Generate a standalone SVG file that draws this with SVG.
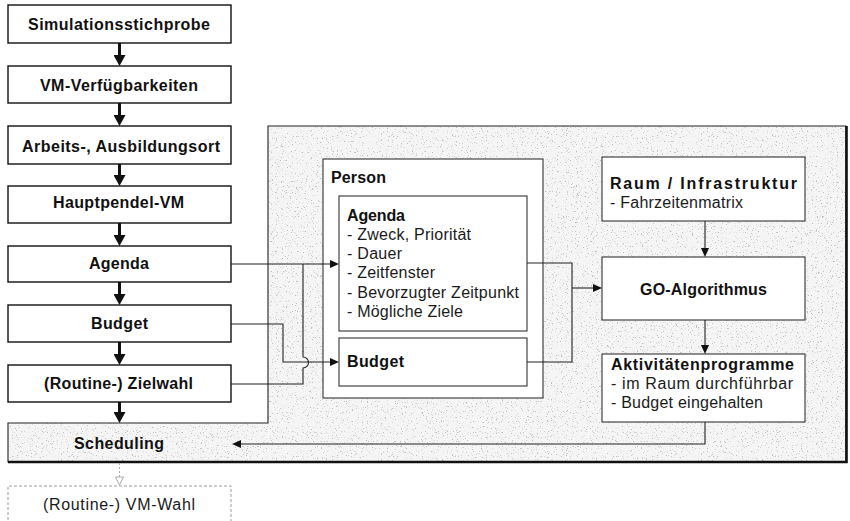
<svg xmlns="http://www.w3.org/2000/svg" width="850" height="521" viewBox="0 0 850 521">
  <style>
    .box { fill: #ffffff; stroke: #111111; stroke-width: 1.4; }
    .inner { fill: #ffffff; stroke: #333333; stroke-width: 1.1; }
    .b { font-family: "Liberation Sans", Arial, sans-serif; font-weight: bold; font-size: 16px; fill: #111111; }
    .h { font-family: "Liberation Sans", Arial, sans-serif; font-weight: bold; font-size: 16px; fill: #111111; }
    .t { font-family: "Liberation Sans", Arial, sans-serif; font-size: 16px; fill: #1a1a1a; }
    .flow { stroke: #111111; stroke-width: 3; fill: none; marker-end: url(#headBig); }
    .link { stroke: #222222; stroke-width: 1.1; fill: none; }
    .arrow { marker-end: url(#headSmall); }
  </style>
  <defs>
    <marker id="headBig" markerUnits="userSpaceOnUse" viewBox="0 0 11 12" markerWidth="11" markerHeight="12" refX="0" refY="6" orient="auto">
      <path d="M0,0 L11,6 L0,12 Z" fill="#111111"/>
    </marker>
    <marker id="headSmall" markerUnits="userSpaceOnUse" viewBox="0 0 9 8" markerWidth="9" markerHeight="8" refX="0" refY="4" orient="auto">
      <path d="M0,0 L9,4 L0,8 Z" fill="#111111"/>
    </marker>
    <marker id="headHollow" markerUnits="userSpaceOnUse" viewBox="0 0 10 10" markerWidth="10" markerHeight="10" refX="1" refY="5" orient="auto">
      <path d="M1,1 L9,5 L1,9 Z" fill="#ffffff" stroke="#aaaaaa" stroke-width="1"/>
    </marker>
    <filter id="grain" filterUnits="userSpaceOnUse" x="0" y="120" width="850" height="350">
      <feTurbulence type="fractalNoise" baseFrequency="0.8" numOctaves="2" seed="7" result="noise"/>
      <feColorMatrix in="noise" type="matrix" values="0 0 0 0 0.5  0 0 0 0 0.5  0 0 0 0 0.5  8 0 0 0 -5.0" result="dots"/>
      <feComposite in="dots" in2="SourceAlpha" operator="in" result="clipped"/>
      <feMerge>
        <feMergeNode in="SourceGraphic"/>
        <feMergeNode in="clipped"/>
      </feMerge>
    </filter>
  </defs>

  <!-- shaded planning panel, its lower strip is the Scheduling step -->
  <g id="scheduling">
    <path d="M268,126 H846 V462 H8 V423 H268 Z" fill="#f5f5f5" filter="url(#grain)"/>
    <path d="M268,126 H846 V462 H8 V423 H268 Z" fill="none" stroke="#222222" stroke-width="1.1"/>
    <path d="M8,462 H846.5 V126" fill="none" stroke="#111111" stroke-width="2.6"/>
    <text class="b" x="74" y="449" textLength="90" lengthAdjust="spacing">Scheduling</text>
  </g>

  <!-- left process chain -->
  <g id="simulationsstichprobe">
    <rect class="box" x="8" y="5" width="223" height="38"/>
    <text class="b" x="28" y="30" textLength="182" lengthAdjust="spacing">Simulationsstichprobe</text>
  </g>
  <g id="vm-verfuegbarkeiten">
    <rect class="box" x="8" y="66" width="223" height="37"/>
    <text class="b" x="40" y="91" textLength="158" lengthAdjust="spacing">VM-Verfügbarkeiten</text>
  </g>
  <g id="arbeitsort">
    <rect class="box" x="8" y="126" width="223" height="38"/>
    <text class="b" x="22" y="152" textLength="198" lengthAdjust="spacing">Arbeits-, Ausbildungsort</text>
  </g>
  <g id="hauptpendel-vm">
    <rect class="box" x="8" y="186" width="223" height="37"/>
    <text class="b" x="53" y="208" textLength="131" lengthAdjust="spacing">Hauptpendel-VM</text>
  </g>
  <g id="agenda">
    <rect class="box" x="8" y="246" width="223" height="36"/>
    <text class="b" x="89" y="269" textLength="60" lengthAdjust="spacing">Agenda</text>
  </g>
  <g id="budget">
    <rect class="box" x="8" y="305" width="223" height="37"/>
    <text class="b" x="91" y="329" textLength="57" lengthAdjust="spacing">Budget</text>
  </g>
  <g id="zielwahl">
    <rect class="box" x="8" y="365" width="223" height="37"/>
    <text class="b" x="44" y="389" textLength="149" lengthAdjust="spacing">(Routine-) Zielwahl</text>
  </g>
  <g id="vm-wahl">
    <path d="M8,530 V486 H231 V530" fill="#ffffff" stroke="#9a9a9a" stroke-width="1" stroke-dasharray="3,2"/>
    <text class="t" x="43" y="510" textLength="152" lengthAdjust="spacing" fill="#2a2a2a">(Routine-) VM-Wahl</text>
  </g>

  <!-- person with agenda and budget -->
  <g id="person">
    <rect class="inner" x="323" y="159" width="220" height="239"/>
    <text class="h" x="331" y="183" textLength="55" lengthAdjust="spacing">Person</text>
  </g>
  <g id="person-agenda">
    <rect class="inner" x="339" y="196" width="188" height="135"/>
    <text class="h" x="347" y="221" textLength="58" lengthAdjust="spacing">Agenda</text>
    <text class="t" x="347" y="240" textLength="124" lengthAdjust="spacing">- Zweck, Priorität</text>
    <text class="t" x="347" y="259" textLength="55" lengthAdjust="spacing">- Dauer</text>
    <text class="t" x="347" y="278" textLength="88" lengthAdjust="spacing">- Zeitfenster</text>
    <text class="t" x="347" y="298" textLength="172" lengthAdjust="spacing">- Bevorzugter Zeitpunkt</text>
    <text class="t" x="347" y="317" textLength="116" lengthAdjust="spacing">- Mögliche Ziele</text>
  </g>
  <g id="person-budget">
    <rect class="inner" x="339" y="338" width="188" height="48"/>
    <text class="h" x="347" y="367" textLength="57" lengthAdjust="spacing">Budget</text>
  </g>

  <!-- right column -->
  <g id="raum">
    <rect class="inner" x="602" y="157" width="203" height="64"/>
    <text class="h" x="610" y="189" textLength="187" lengthAdjust="spacing">Raum / Infrastruktur</text>
    <text class="t" x="610" y="208" textLength="133" lengthAdjust="spacing">- Fahrzeitenmatrix</text>
  </g>
  <g id="go-algorithmus">
    <rect class="inner" x="602" y="257" width="203" height="63"/>
    <text class="h" x="640" y="295" textLength="127" lengthAdjust="spacing">GO-Algorithmus</text>
  </g>
  <g id="aktivitaetenprogramme">
    <rect class="inner" x="602" y="354" width="203" height="68"/>
    <text class="h" x="611" y="370" textLength="183" lengthAdjust="spacing">Aktivitätenprogramme</text>
    <text class="t" x="611" y="389" textLength="182" lengthAdjust="spacing">- im Raum durchführbar</text>
    <text class="t" x="611" y="408" textLength="152" lengthAdjust="spacing">- Budget eingehalten</text>
  </g>

  <!-- connectors -->
  <g id="connectors">
    <path class="flow" d="M119.5,43 V55"/>
    <path class="flow" d="M119.5,103 V115"/>
    <path class="flow" d="M119.5,164 V175"/>
    <path class="flow" d="M119.5,223 V235"/>
    <path class="flow" d="M119.5,282 V294"/>
    <path class="flow" d="M119.5,342 V354"/>
    <path class="flow" d="M119.5,402 V412"/>

    <path class="link arrow" d="M231,264 H330"/>
    <path class="link" d="M231,384 H303 V368 A5.5,5.5 0 0 0 303,357 V264"/>
    <path class="link arrow" d="M231,324 H283 V362 H330"/>

    <path class="link" d="M527,263 H572 V362 H527"/>
    <path class="link arrow" d="M572,288 H593"/>

    <path class="link arrow" d="M705,221 V248"/>
    <path class="link arrow" d="M705,320 V345"/>
    <path class="link arrow" d="M705,422 V444 H241"/>

    <path d="M119.5,463 V477" fill="none" stroke="#aaaaaa" stroke-width="1" stroke-dasharray="2,2" marker-end="url(#headHollow)"/>
  </g>
</svg>
